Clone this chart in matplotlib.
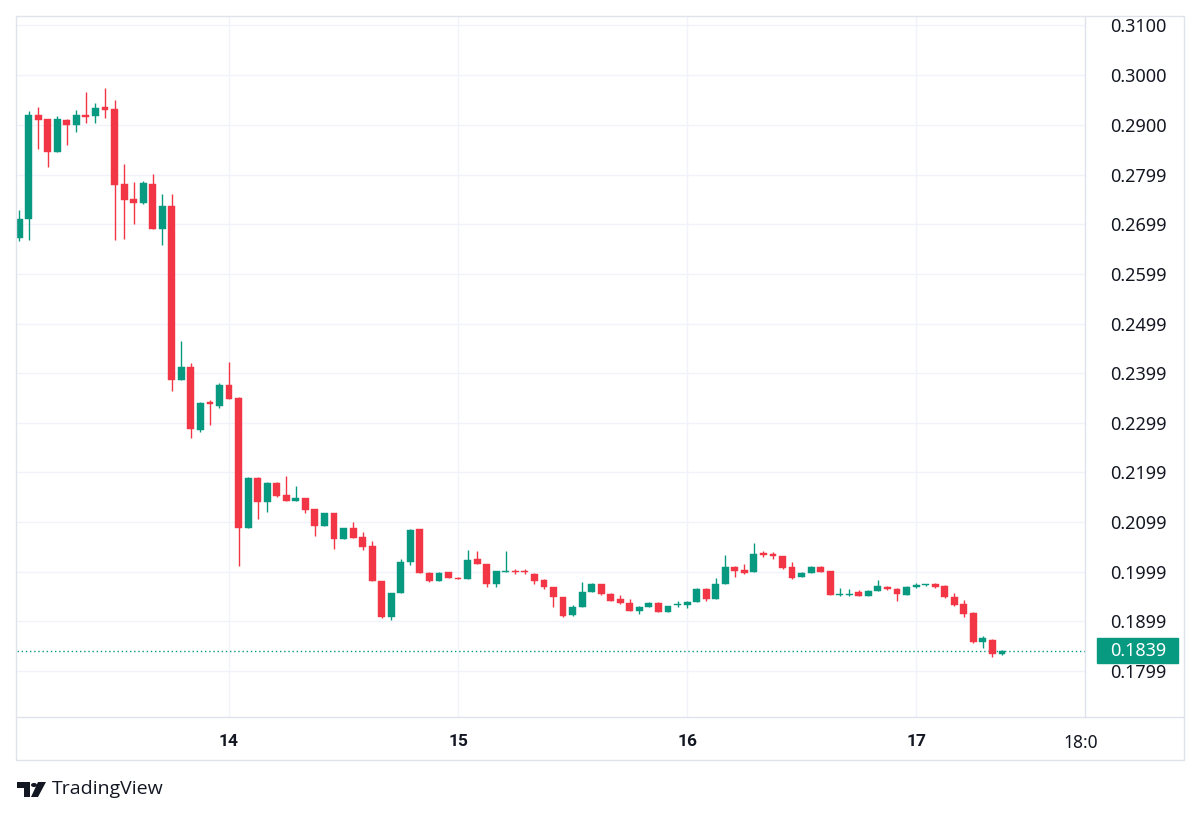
import matplotlib
matplotlib.use("Agg")
import matplotlib.pyplot as plt
from matplotlib.patches import Rectangle, Polygon, Circle
from matplotlib.lines import Line2D

# ---------------- data (hourly candles, first candle = 13th 02:00) ----------------
opens = [0.2672, 0.2710, 0.2920, 0.2912, 0.2844, 0.2910, 0.2900, 0.2920, 0.2918, 0.2936,
         0.2932, 0.2780, 0.2750, 0.2742, 0.2780, 0.2690, 0.2736, 0.2386, 0.2412, 0.2284,
         0.2340, 0.2332, 0.2376, 0.2348, 0.2086, 0.2188, 0.2140, 0.2178, 0.2154, 0.2142,
         0.2148, 0.2126, 0.2090, 0.2118, 0.2064, 0.2086, 0.2068, 0.2050, 0.1980, 0.1908,
         0.1956, 0.2018, 0.2084, 0.1996, 0.1980, 0.1998, 0.1986, 0.1984, 0.2024, 0.2014,
         0.1974, 0.1998, 0.2000, 0.2000, 0.1994, 0.1982, 0.1968, 0.1948, 0.1912, 0.1928,
         0.1958, 0.1974, 0.1954, 0.1944, 0.1936, 0.1920, 0.1928, 0.1936, 0.1918, 0.1932,
         0.1932, 0.1938, 0.1964, 0.1944, 0.1974, 0.2008, 0.2002, 0.1998, 0.2036, 0.2034,
         0.2030, 0.2008, 0.1988, 0.1996, 0.2008, 0.2000, 0.1952, 0.1952, 0.1958, 0.1950,
         0.1960, 0.1968, 0.1964, 0.1952, 0.1968, 0.1972, 0.1974, 0.1970, 0.1948, 0.1934,
         0.1916, 0.1858, 0.1862, 0.1832]
highs = [0.2728, 0.2928, 0.2936, 0.2912, 0.2918, 0.2912, 0.2930, 0.2966, 0.2944, 0.2974,
         0.2950, 0.2820, 0.2784, 0.2786, 0.2800, 0.2760, 0.2760, 0.2464, 0.2420, 0.2340,
         0.2344, 0.2380, 0.2422, 0.2350, 0.2190, 0.2190, 0.2180, 0.2180, 0.2192, 0.2172,
         0.2148, 0.2126, 0.2118, 0.2118, 0.2086, 0.2098, 0.2078, 0.2060, 0.1980, 0.1956,
         0.2024, 0.2084, 0.2084, 0.1998, 0.1998, 0.1998, 0.1988, 0.2042, 0.2040, 0.2014,
         0.2000, 0.2040, 0.2004, 0.2004, 0.1996, 0.1984, 0.1968, 0.1948, 0.1932, 0.1978,
         0.1976, 0.1974, 0.1956, 0.1952, 0.1944, 0.1930, 0.1938, 0.1938, 0.1930, 0.1940,
         0.1940, 0.1966, 0.1966, 0.1986, 0.2032, 0.2010, 0.2014, 0.2056, 0.2040, 0.2038,
         0.2030, 0.2018, 0.1998, 0.2010, 0.2010, 0.2000, 0.1966, 0.1964, 0.1962, 0.1962,
         0.1982, 0.1970, 0.1966, 0.1970, 0.1976, 0.1974, 0.1976, 0.1972, 0.1956, 0.1942,
         0.1918, 0.1870, 0.1864, 0.1840]
lows = [0.2665, 0.2668, 0.2850, 0.2814, 0.2844, 0.2860, 0.2886, 0.2904, 0.2904, 0.2914,
        0.2668, 0.2670, 0.2700, 0.2740, 0.2690, 0.2658, 0.2364, 0.2386, 0.2268, 0.2280,
        0.2294, 0.2328, 0.2346, 0.2010, 0.2086, 0.2104, 0.2120, 0.2150, 0.2142, 0.2142,
        0.2118, 0.2070, 0.2090, 0.2044, 0.2064, 0.2066, 0.2042, 0.1980, 0.1906, 0.1902,
        0.1956, 0.2012, 0.1996, 0.1978, 0.1980, 0.1986, 0.1984, 0.1984, 0.2014, 0.1968,
        0.1968, 0.1998, 0.1994, 0.1994, 0.1974, 0.1964, 0.1928, 0.1908, 0.1910, 0.1928,
        0.1958, 0.1952, 0.1940, 0.1934, 0.1920, 0.1914, 0.1928, 0.1918, 0.1918, 0.1928,
        0.1926, 0.1938, 0.1940, 0.1944, 0.1974, 0.1988, 0.1994, 0.1998, 0.2028, 0.2024,
        0.2004, 0.1984, 0.1988, 0.1996, 0.1998, 0.1952, 0.1950, 0.1950, 0.1950, 0.1950,
        0.1960, 0.1962, 0.1940, 0.1952, 0.1966, 0.1970, 0.1966, 0.1946, 0.1930, 0.1908,
        0.1856, 0.1844, 0.1826, 0.1830]
closes = [0.2710, 0.2920, 0.2910, 0.2844, 0.2912, 0.2900, 0.2920, 0.2915, 0.2934, 0.2930,
          0.2778, 0.2748, 0.2742, 0.2782, 0.2690, 0.2736, 0.2386, 0.2412, 0.2286, 0.2338,
          0.2336, 0.2376, 0.2346, 0.2086, 0.2188, 0.2140, 0.2178, 0.2152, 0.2142, 0.2148,
          0.2124, 0.2090, 0.2118, 0.2064, 0.2086, 0.2066, 0.2048, 0.1980, 0.1908, 0.1956,
          0.2018, 0.2082, 0.1996, 0.1980, 0.1996, 0.1986, 0.1984, 0.2022, 0.2014, 0.1974,
          0.2000, 0.2000, 0.1998, 0.1998, 0.1980, 0.1968, 0.1948, 0.1910, 0.1928, 0.1958,
          0.1974, 0.1954, 0.1940, 0.1936, 0.1920, 0.1928, 0.1936, 0.1918, 0.1930, 0.1934,
          0.1938, 0.1964, 0.1944, 0.1974, 0.2008, 0.2000, 0.1996, 0.2034, 0.2032, 0.2030,
          0.2006, 0.1986, 0.1996, 0.2008, 0.1998, 0.1952, 0.1954, 0.1954, 0.1950, 0.1960,
          0.1970, 0.1964, 0.1954, 0.1968, 0.1972, 0.1974, 0.1968, 0.1948, 0.1932, 0.1914,
          0.1858, 0.1866, 0.1832, 0.1839]
first_hour = 2                      # hours after 13th 00:00
last_price = 0.1839

price_ticks = [0.3100, 0.3000, 0.2900, 0.2799, 0.2699, 0.2599, 0.2499, 0.2399,
               0.2299, 0.2199, 0.2099, 0.1999, 0.1899, 0.1799]
price_labels = ["0.3100", "0.3000", "0.2900", "0.2799", "0.2699", "0.2599", "0.2499",
                "0.2399", "0.2299", "0.2199", "0.2099", "0.1999", "0.1899", "0.1799"]
time_ticks = [24, 48, 72, 96, 113.2]
time_labels = ["14", "15", "16", "17", "18:0"]
time_bold = [True, True, True, True, False]
grid_times = [24, 48, 72, 96]

# ---------------- style ----------------
UP = "#089981"
DOWN = "#F23645"
TXT = "#131722"
GRID = "#f0f3fa"
BORDER = "#e0e3eb"
W, H = 1200, 817

fig = plt.figure(figsize=(12, 8.17), dpi=100)
fig.patch.set_facecolor("white")

def fx(x):
    return x / W

def fy(y):
    return 1 - y / H

L_, R_, T_, B_ = 17, 1085, 17, 717
ax = fig.add_axes([fx(L_), fy(B_), fx(R_) - fx(L_), fy(T_) - fy(B_)])
ax.set_facecolor("white")

xs = [first_hour + i for i in range(len(opens))]
for x, o, h, l, c in zip(xs, opens, highs, lows, closes):
    col = UP if c >= o else DOWN
    ax.vlines(x, l, h, color=col, linewidth=1.0, zorder=3)
    bot = min(o, c)
    ht = max(abs(c - o), 0.00018)
    ax.bar(x, ht, bottom=bot, width=0.72, color=col, edgecolor=col, linewidth=0.3, zorder=4)

ax.set_xlim(1.78, 113.7)
ax.set_ylim(0.17058, 0.31171)

# grid
for p in price_ticks:
    ax.axhline(p, color=GRID, linewidth=1.0, zorder=1)
for t in grid_times:
    ax.axvline(t, color=GRID, linewidth=1.0, zorder=1)

# last price dotted line
ax.axhline(last_price, color=UP, linewidth=1.0, linestyle=(0, (1, 2)), zorder=2)

ax.set_yticks(price_ticks)
ax.set_yticklabels(price_labels)
ax.yaxis.tick_right()
ax.tick_params(axis="y", length=0, pad=18, labelsize=13, labelcolor=TXT)
for lab in ax.get_yticklabels():
    lab.set_fontfamily("Noto Sans")

ax.set_xticks(time_ticks)
ax.set_xticklabels(time_labels)
ax.tick_params(axis="x", length=0, pad=12, labelsize=12.5, labelcolor=TXT)
for lab, b in zip(ax.get_xticklabels(), time_bold):
    lab.set_fontfamily("Roboto" if b else "Noto Sans")
    lab.set_fontweight("bold" if b else "normal")

for s in ax.spines.values():
    s.set_visible(False)

# frame lines (figure coords)
fig.add_artist(Rectangle((fx(16), fy(760)), fx(1184) - fx(16), fy(16) - fy(760),
                         fill=False, edgecolor=BORDER, linewidth=1.0, transform=fig.transFigure))
fig.add_artist(Line2D([fx(16), fx(1184)], [fy(717), fy(717)], color=BORDER, linewidth=1.0,
                      transform=fig.transFigure))
fig.add_artist(Line2D([fx(1085), fx(1085)], [fy(16), fy(717)], color=BORDER, linewidth=1.0,
                      transform=fig.transFigure))

# last price label box
yb = ax.transData.transform((0, last_price))[1]
yfig = fig.transFigure.inverted().transform((0, yb))[1]
box_h = 25 / H
fig.add_artist(Rectangle((fx(1097), yfig - box_h / 2), fx(1178) - fx(1097), box_h,
                         facecolor=UP, edgecolor=UP, transform=fig.transFigure, zorder=10))
fig.text(fx(1110), yfig, "0.1839", color="white", fontsize=13, family="Noto Sans",
         va="center", ha="left", zorder=11)

# TradingView logo
def P(pts):
    return [(fx(a), fy(b)) for a, b in pts]

fig.add_artist(Polygon(P([(17, 782), (30, 782), (30, 797), (24, 797), (24, 788), (17, 788)]),
                       closed=True, facecolor=TXT, edgecolor="none", transform=fig.transFigure))
fig.add_artist(Circle((fx(34), fy(785)), 3.0 / W, facecolor=TXT, edgecolor="none",
                      transform=fig.transFigure))
fig.add_artist(Polygon(P([(38, 782), (46, 782), (38, 797), (31, 797)]),
                       closed=True, facecolor=TXT, edgecolor="none", transform=fig.transFigure))
fig.text(fx(52), fy(789), "TradingView", color=TXT, fontsize=14, family="Open Sans",
         va="center", ha="left")

fig.savefig("out.png", dpi=100, facecolor="white")
